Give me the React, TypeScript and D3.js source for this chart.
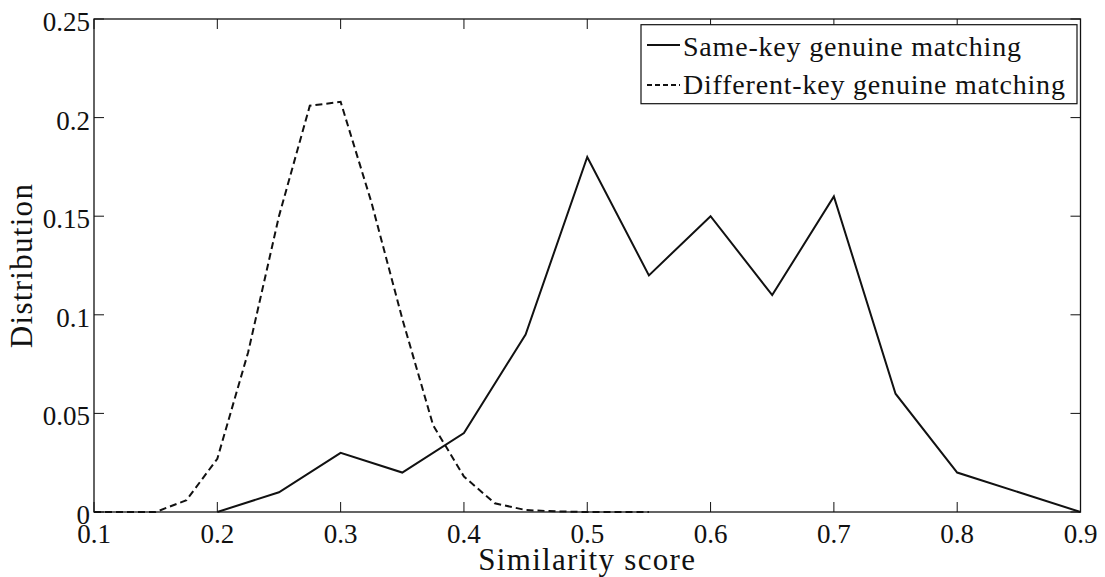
import React from 'react';
import * as d3 from 'd3';

// similarity score bins
const sameKeyX = [0.2, 0.25, 0.3, 0.35, 0.4, 0.45, 0.5, 0.55, 0.6, 0.65, 0.7, 0.75, 0.8, 0.85, 0.9];
const sameKeyY = [0, 0.01, 0.03, 0.02, 0.04, 0.09, 0.18, 0.12, 0.15, 0.11, 0.16, 0.06, 0.02, 0.01, 0];

const diffKeyX = [0.1, 0.125, 0.15, 0.175, 0.2, 0.225, 0.25, 0.275, 0.3, 0.325, 0.35, 0.375, 0.4, 0.425, 0.45, 0.475, 0.5, 0.525, 0.55];
const diffKeyY = [0, 0, 0, 0.006, 0.027, 0.081, 0.15, 0.206, 0.208, 0.157, 0.098, 0.044, 0.018, 0.0044, 0.001, 0.0003, 0, 0, 0];

const xTicks = [0.1, 0.2, 0.3, 0.4, 0.5, 0.6, 0.7, 0.8, 0.9];
const yTicks = [0, 0.05, 0.1, 0.15, 0.2, 0.25];
const yTickLabels = ['0', '0.05', '0.1', '0.15', '0.2', '0.25'];

const legendLabels = ['Same-key genuine matching', 'Different-key genuine matching'];

const W = 1105;
const H = 577;
const left = 94;
const right = 1080.5;
const top = 19;
const bottom = 512;
const font = "'Liberation Serif', 'Times New Roman', serif";
const ink = '#111';

export default function App() {
  const x = d3.scaleLinear().domain([0.1, 0.9]).range([left, right]);
  const y = d3.scaleLinear().domain([0, 0.25]).range([bottom, top]);
  const line = d3.line<[number, number]>()
    .x(d => x(d[0]))
    .y(d => y(d[1]));

  const same = sameKeyX.map((v, i) => [v, sameKeyY[i]] as [number, number]);
  const diff = diffKeyX.map((v, i) => [v, diffKeyY[i]] as [number, number]);
  const tickLen = 10;

  return (
    <svg width={W} height={H} style={{ position: 'absolute', left: 0, top: 0, background: '#fff' }}
      fontFamily={font}>
      <rect x={0} y={0} width={W} height={H} fill="#fff" />

      {/* data */}
      <path d={line(diff) || ''} fill="none" stroke={ink} strokeWidth={2} strokeDasharray="7,4" />
      <path d={line(same) || ''} fill="none" stroke={ink} strokeWidth={2} strokeLinejoin="miter" />

      {/* frame */}
      <rect x={left} y={top} width={right - left} height={bottom - top} fill="none" stroke={ink} strokeWidth={1.3} />

      {xTicks.map(t => (
        <g key={'x' + t}>
          <line x1={x(t)} x2={x(t)} y1={bottom} y2={bottom - tickLen} stroke={ink} strokeWidth={1} />
          <line x1={x(t)} x2={x(t)} y1={top} y2={top + tickLen} stroke={ink} strokeWidth={1} />
          <text x={x(t)} y={543} textAnchor="middle" fontSize={27} fill={ink}>{t.toFixed(1)}</text>
        </g>
      ))}
      {yTicks.map((t, i) => (
        <g key={'y' + t}>
          <line x1={left} x2={left + tickLen} y1={y(t)} y2={y(t)} stroke={ink} strokeWidth={1} />
          <line x1={right} x2={right - tickLen} y1={y(t)} y2={y(t)} stroke={ink} strokeWidth={1} />
          <text x={90} y={y(t) + 12} textAnchor="end" fontSize={27} fill={ink}>{yTickLabels[i]}</text>
        </g>
      ))}

      {/* axis titles */}
      <text x={(left + right) / 2} y={570} textAnchor="middle" fontSize={31} letterSpacing={1.3} fill={ink}>
        Similarity score
      </text>
      <text transform={`translate(32,${(top + bottom) / 2}) rotate(-90)`} textAnchor="middle" fontSize={31}
        letterSpacing={1.3} fill={ink}>
        Distribution
      </text>

      {/* legend */}
      <rect x={641} y={24.7} width={436} height={79} fill="#fff" stroke={ink} strokeWidth={1.2} />
      <line x1={647} x2={680} y1={45} y2={45} stroke={ink} strokeWidth={2} />
      <line x1={647} x2={680} y1={85} y2={85} stroke={ink} strokeWidth={2} strokeDasharray="5,3" />
      <text x={683} y={56} fontSize={28} letterSpacing={0.8} fill={ink}>{legendLabels[0]}</text>
      <text x={683} y={94} fontSize={28} letterSpacing={0.8} fill={ink}>{legendLabels[1]}</text>
    </svg>
  );
}
